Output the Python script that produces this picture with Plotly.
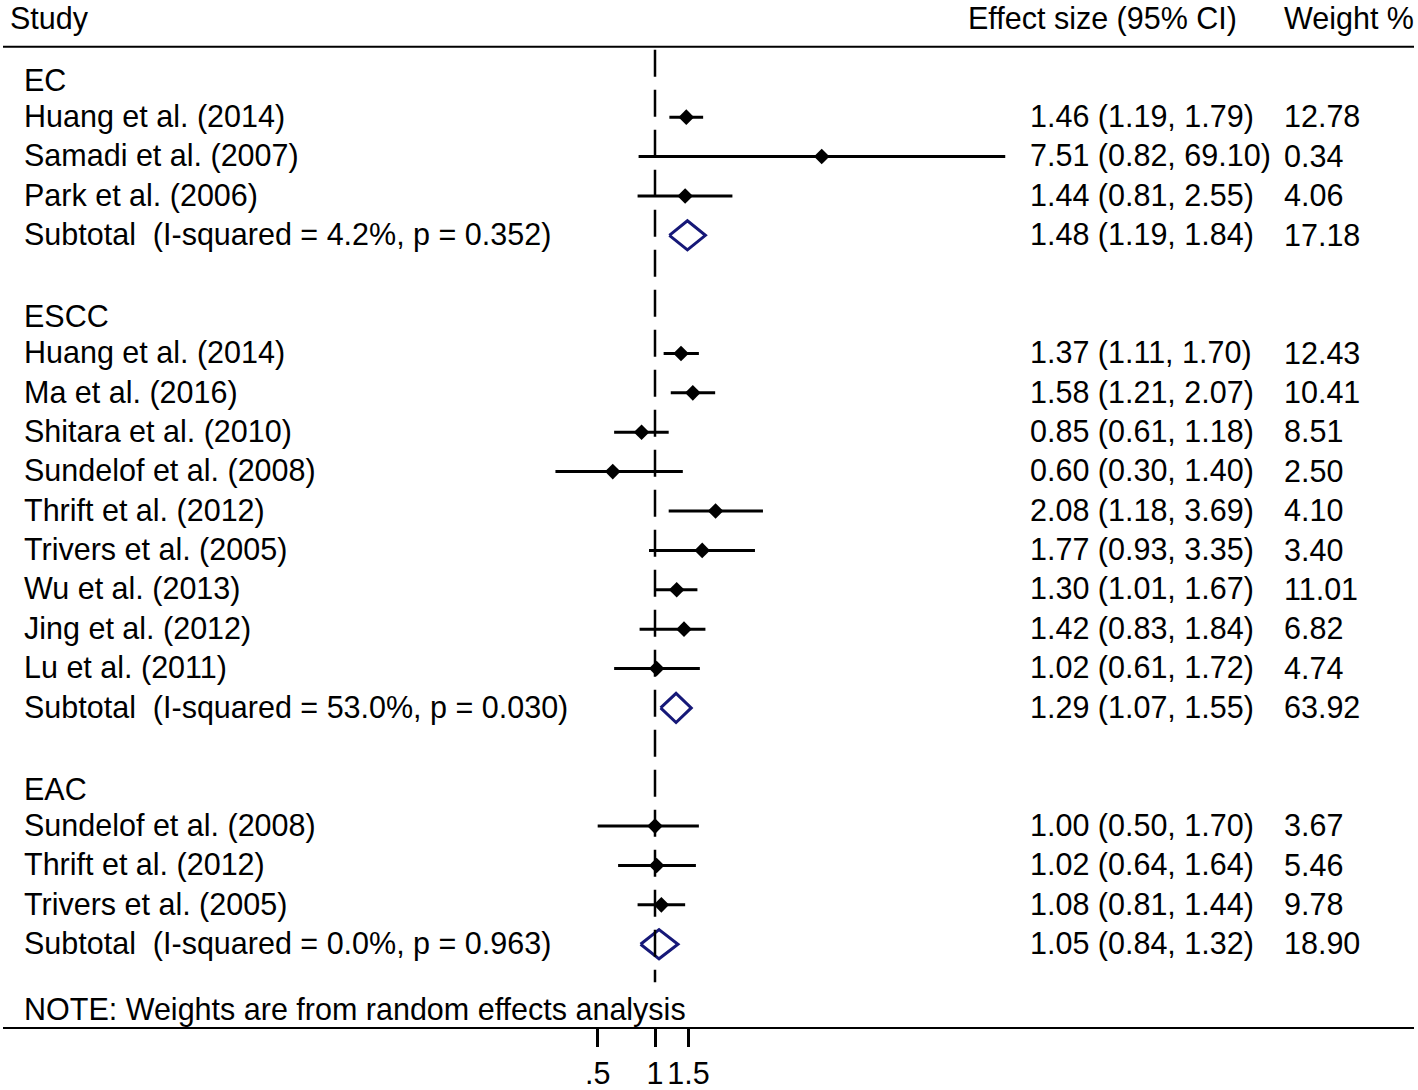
import plotly.graph_objects as go

# ---------------- data ----------------
group_names = ["EC", "ESCC", "EAC"]

ec_studies = ["Huang et al. (2014)", "Samadi et al. (2007)", "Park et al. (2006)"]
ec_es = [1.46, 7.51, 1.44]
ec_lo = [1.19, 0.82, 0.81]
ec_hi = [1.79, 69.10, 2.55]
ec_wt = ["12.78", "0.34", "4.06"]
ec_sub = {"label": "Subtotal  (I-squared = 4.2%, p = 0.352)", "es": 1.48, "lo": 1.19, "hi": 1.84, "wt": "17.18"}

escc_studies = ["Huang et al. (2014)", "Ma et al. (2016)", "Shitara et al. (2010)",
                "Sundelof et al. (2008)", "Thrift et al. (2012)", "Trivers et al. (2005)",
                "Wu et al. (2013)", "Jing et al. (2012)", "Lu et al. (2011)"]
escc_es = [1.37, 1.58, 0.85, 0.60, 2.08, 1.77, 1.30, 1.42, 1.02]
escc_lo = [1.11, 1.21, 0.61, 0.30, 1.18, 0.93, 1.01, 0.83, 0.61]
escc_hi = [1.70, 2.07, 1.18, 1.40, 3.69, 3.35, 1.67, 1.84, 1.72]
escc_wt = ["12.43", "10.41", "8.51", "2.50", "4.10", "3.40", "11.01", "6.82", "4.74"]
escc_sub = {"label": "Subtotal  (I-squared = 53.0%, p = 0.030)", "es": 1.29, "lo": 1.07, "hi": 1.55, "wt": "63.92"}

eac_studies = ["Sundelof et al. (2008)", "Thrift et al. (2012)", "Trivers et al. (2005)"]
eac_es = [1.00, 1.02, 1.08]
eac_lo = [0.50, 0.64, 0.81]
eac_hi = [1.70, 1.64, 1.44]
eac_wt = ["3.67", "5.46", "9.78"]
eac_sub = {"label": "Subtotal  (I-squared = 0.0%, p = 0.963)", "es": 1.05, "lo": 0.84, "hi": 1.32, "wt": "18.90"}

x_tickvals = [0.5, 1, 1.5]
x_ticktext = [".5", "1", "1.5"]
note_text = "NOTE: Weights are from random effects analysis"
headers = ["Study", "Effect size (95% CI)", "Weight %"]

groups = [
    (ec_studies, ec_es, ec_lo, ec_hi, ec_wt, ec_sub),
    (escc_studies, escc_es, escc_lo, escc_hi, escc_wt, escc_sub),
    (eac_studies, eac_es, eac_lo, eac_hi, eac_wt, eac_sub),
]

# ---------------- layout helpers ----------------
W, H = 1418, 1090
ML, MR, MT, MB = 3, 4, 0, 60
PW = W - ML - MR
FONT = "Arial, 'Liberation Sans', sans-serif"
FS = 30.5
NAVY = "#161878"

def px2paper(px):
    return (px - ML) / PW

ROW0, ROWH = 78.0, 39.5  # pixel y of row 0 and row height
def px2row(py):
    return (py - ROW0) / ROWH

TXT_OFF = -0.02

fig = go.Figure()
annotations = []

def add_text(txt, xpx, row, anchor="left"):
    annotations.append(dict(
        text=txt.replace("  ", "\u00a0 "), x=px2paper(xpx), xref="paper", y=row, yref="y",
        xanchor=anchor, yanchor="middle", showarrow=False,
        font=dict(family=FONT, size=FS, color="black")))

ci_x, ci_y, pt_x, pt_y = [], [], [], []
row = 0
for gname, (studies, es, lo, hi, wt, sub) in zip(group_names, groups):
    add_text(gname, 22, row + 0.05)
    row += 1
    for s, e, l, h, w in zip(studies, es, lo, hi, wt):
        add_text(s, 22, row + TXT_OFF)
        add_text(f"{e:.2f} ({l:.2f}, {h:.2f})", 1028, row + TXT_OFF)
        add_text(w, 1282, row + TXT_OFF)
        ci_x += [l, h, None]
        ci_y += [row, row, None]
        pt_x.append(e)
        pt_y.append(row)
        row += 1
    # subtotal
    add_text(sub["label"], 22, row + TXT_OFF)
    add_text(f"{sub['es']:.2f} ({sub['lo']:.2f}, {sub['hi']:.2f})", 1028, row + TXT_OFF)
    add_text(sub["wt"], 1282, row + TXT_OFF)
    hh = 0.37
    fig.add_trace(go.Scatter(
        x=[sub["lo"], sub["es"], sub["hi"], sub["es"], sub["lo"]],
        y=[row, row - hh, row, row + hh, row],
        mode="lines", line=dict(color=NAVY, width=3), hoverinfo="skip"))
    row += 2

# null line (dashed)
fig.add_trace(go.Scatter(
    x=[1, 1], y=[px2row(50), px2row(985)], mode="lines",
    line=dict(color="black", width=2.5, dash="27px,13px"), hoverinfo="skip"))

# CI lines
fig.add_trace(go.Scatter(x=ci_x, y=ci_y, mode="lines",
                         line=dict(color="black", width=3), hoverinfo="skip"))
# point estimates
fig.add_trace(go.Scatter(x=pt_x, y=pt_y, mode="markers",
                         marker=dict(symbol="diamond", size=12, color="black"),
                         hoverinfo="skip"))

# headers
add_text(headers[0], 8, px2row(19))
add_text(headers[1], 966, px2row(19))
add_text(headers[2], 1282, px2row(19))
# note
add_text(note_text, 22, px2row(1012))

# top rule
shapes = [dict(type="line", xref="paper", x0=0, x1=1, yref="y",
               y0=px2row(47), y1=px2row(47), line=dict(color="black", width=2))]

y_bottom = px2row(H - MB)
y_top = px2row(0)

fig.update_layout(
    width=W, height=H,
    margin=dict(l=ML, r=MR, t=MT, b=MB, pad=0),
    paper_bgcolor="white", plot_bgcolor="white",
    showlegend=False,
    annotations=annotations, shapes=shapes,
    xaxis=dict(type="log", range=[(ML - 655) / 190.4, (W - MR - 655) / 190.4],
               tickvals=x_tickvals, ticktext=x_ticktext, tickangle=0,
               ticks="outside", ticklen=18, tickwidth=3, tickcolor="black",
               showline=True, linewidth=2, linecolor="black",
               showgrid=False, zeroline=False,
               tickfont=dict(family=FONT, size=FS, color="black")),
    yaxis=dict(range=[y_bottom, y_top], visible=False, showgrid=False, zeroline=False),
)

fig.write_html("out.html", config={"displayModeBar": False},
               post_script="document.body.style.margin='0';document.body.style.overflow='hidden';")
